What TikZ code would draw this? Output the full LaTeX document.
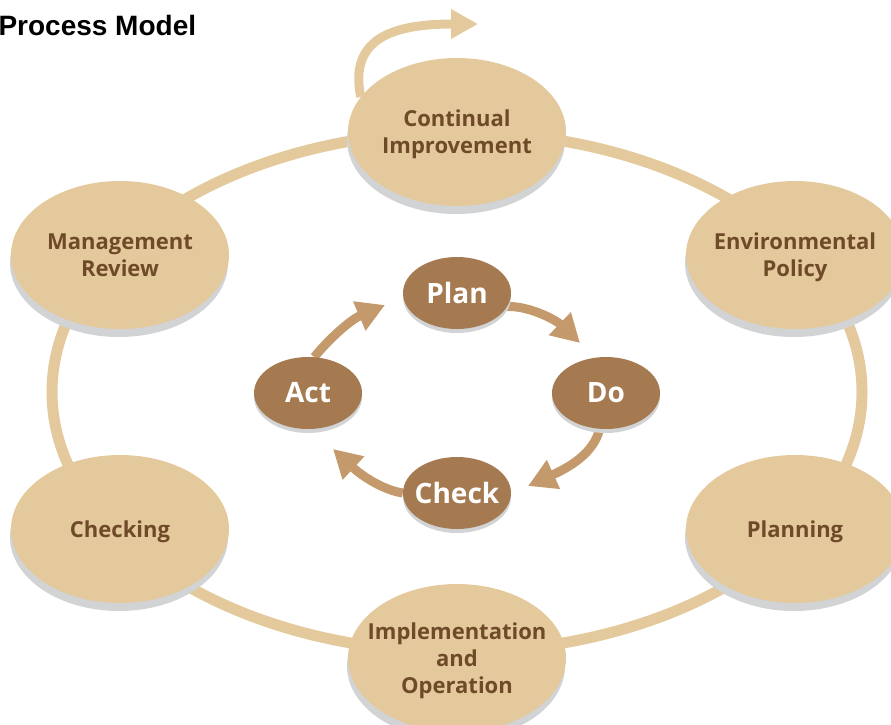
\documentclass[tikz,border=0pt]{standalone}
\usepackage{fontspec}
\usepackage{tikz}
\usetikzlibrary{arrows.meta,shapes.geometric,shadows,backgrounds}
\newfontfamily\boxfont{Open Sans}
\newfontfamily\headfont{Liberation Sans}
\definecolor{sand}{RGB}{228,201,157}
\definecolor{bark}{RGB}{110,74,40}
\definecolor{cocoa}{RGB}{166,122,80}
\definecolor{caramel}{RGB}{196,154,108}
\definecolor{shade}{RGB}{209,211,212}
\tikzset{EMS style/.style={x=1pt,y=-1pt},
	ems box/.style={ellipse,fill=sand,text=bark,minimum width=218pt,minimum height=148pt,inner xsep=-30pt,inner ysep=0pt,align=center,
		text depth=0pt,font=\boxfont\bfseries\fontsize{22}{27}\selectfont,
		drop shadow={shadow xshift=-1pt,shadow yshift=-8pt,fill=shade,opacity=1}},
	pdca box/.style={ellipse,fill=cocoa,text=white,minimum width=108pt,minimum height=72pt,inner xsep=-15pt,inner ysep=0pt,
		font=\boxfont\bfseries\fontsize{28}{32}\selectfont,
		drop shadow={shadow xshift=0pt,shadow yshift=-4pt,fill=shade,opacity=1}},
	ring line/.style={draw=sand,line width=11pt},
	loop arrow/.style={draw=sand,line width=9pt,-{Triangle[length=27pt,width=28pt]}},
	cycle arrow/.style={draw=caramel,line width=9pt,-{Triangle[length=28pt,width=30pt]}}}

\begin{document}
\begin{tikzpicture}[EMS style]
	\useasboundingbox (0,0) rectangle (891,724);
	\clip (0,0) rectangle (891,724);
	
	\node[anchor=base west,font=\headfont\bfseries\fontsize{28}{32}\selectfont] (title) at (-5,35) {Process Model};
	
	\node[ems box] (ci) at (457,132) {Continual\\Improvement};
	\node[ems box] (mr) at (120,255) {Management\\Review};
	\node[ems box] (ep) at (795,255) {Environmental\\Policy};
	\node[ems box] (chk) at (120,529) {Checking};
	\node[ems box] (pl) at (795,529) {Planning};
	\node[ems box] (io) at (457,658) {Implementation\\and\\Operation};
	
	\node[pdca box] (plan) at (457,293) {Plan};
	\node[pdca box] (do) at (606,393) {Do};
	\node[pdca box] (check) at (457,493) {Check};
	\node[pdca box] (act) at (308,393) {Act};
	
	\coordinate (hub) at (457,392);
	\coordinate (loopend) at (478,24);
	\coordinate (pd) at (580,343);
	\coordinate (dc) at (528,486);
	\coordinate (ca) at (333,449);
	\coordinate (ap) at (385,305);
	
	\begin{scope}[on background layer]
		\draw[ring line] (hub) ellipse [x radius=405pt,y radius=260pt];
		\draw[loop arrow] (ci.160) .. controls (349,40) and (390,24) .. (loopend);
		
		\draw[cycle arrow] (plan.-15) .. controls (530,306) and (556,320) .. (pd);
		\draw[cycle arrow] (do.-100) .. controls (594,452) and (572,466) .. (dc);
		\draw[cycle arrow] (check.west) .. controls (383,490) and (362,476) .. (ca);
		\draw[cycle arrow] (act.80) .. controls (328,340) and (350,320) .. (ap);
	\end{scope}
\end{tikzpicture}
\end{document}
